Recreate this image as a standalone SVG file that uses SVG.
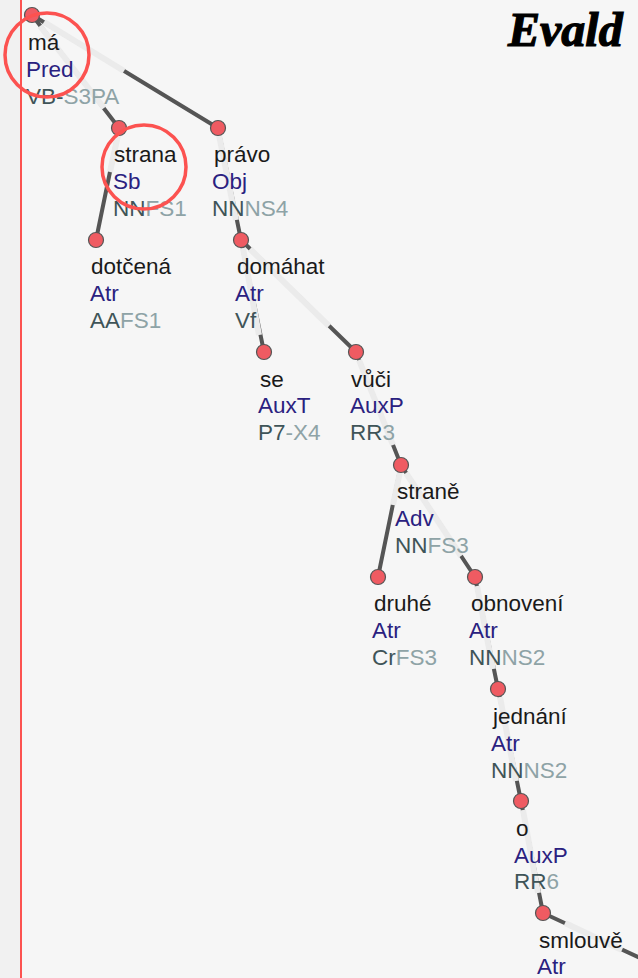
<svg xmlns="http://www.w3.org/2000/svg" width="638" height="978" viewBox="0 0 638 978">
<style>
text{font-family:"Liberation Sans",Arial,sans-serif;font-size:22.5px;transform:translateY(0.7px)}
.f{fill:#1a1a1a}.d{fill:#2a2180}.t{fill:#3f5458}.s{fill:#8ea3a6}
.e{stroke:#555;stroke-width:4;fill:none;stroke-linecap:round}
.h{stroke:#ebebeb;stroke-width:6;fill:none}
.n{fill:#ef5b62;stroke:#555;stroke-width:1.2}
.r{fill:none;stroke:#fc5250;stroke-width:3.5}
</style>
<rect width="638" height="978" fill="#f6f6f6"/>
<rect width="21" height="978" fill="#f1f1f1"/>
<rect x="20" width="2" height="978" fill="#fc5250"/>
<g id="connectors">
<path class="e" d="M32 15L119 128"/><path class="h" d="M40 26L104 108"/>
<path class="e" d="M32 15L218 128"/><path class="h" d="M44 22L124 71"/>
<path class="e" d="M119 128L96 240"/><path class="h" d="M118 135L110 172"/>
<path class="e" d="M218 128L241 240"/><path class="h" d="M219 135L236 220"/>
<path class="e" d="M241 240L264 352"/><path class="h" d="M243 248L259 335"/>
<path class="e" d="M241 240L356 352"/><path class="h" d="M250 249L329 326"/>
<path class="e" d="M356 352L401 465"/><path class="h" d="M359 360L393 445"/>
<path class="e" d="M401 465L378 577"/><path class="h" d="M400 472L393 505"/>
<path class="e" d="M401 465L475 577"/><path class="h" d="M406 473L461 556"/>
<path class="e" d="M475 577L498 689"/><path class="h" d="M477 586L493 669"/>
<path class="e" d="M498 689L521 801"/><path class="h" d="M500 697L516 781"/>
<path class="e" d="M521 801L543 913"/><path class="h" d="M523 810L538 893"/>
<path class="e" d="M543 913L640 958"/><path class="h" d="M565 923L622 950"/>
</g>
<g id="node-ma"><circle class="n" cx="32" cy="15" r="7.5"/><text class="f" x="28" y="49">má</text><text class="d" x="26" y="76">Pred</text><text x="26" y="103"><tspan class="t">VB-</tspan><tspan class="s">S3PA</tspan></text></g>
<g id="node-strana"><circle class="n" cx="119" cy="128" r="7.5"/><text class="f" x="114" y="161">strana</text><text class="d" x="113" y="188">Sb</text><text x="113" y="215"><tspan class="t">NN</tspan><tspan class="s">FS1</tspan></text></g>
<g id="node-pravo"><circle class="n" cx="218" cy="128" r="7.5"/><text class="f" x="214" y="161">právo</text><text class="d" x="212" y="188">Obj</text><text x="212" y="215"><tspan class="t">NN</tspan><tspan class="s">NS4</tspan></text></g>
<g id="node-dotcena"><circle class="n" cx="96" cy="240" r="7.5"/><text class="f" x="91" y="273">dotčená</text><text class="d" x="90" y="300">Atr</text><text x="90" y="327"><tspan class="t">AA</tspan><tspan class="s">FS1</tspan></text></g>
<g id="node-domahat"><circle class="n" cx="241" cy="240" r="7.5"/><text class="f" x="237" y="273">domáhat</text><text class="d" x="235" y="300">Atr</text><text class="t" x="235" y="327">Vf</text></g>
<g id="node-se"><circle class="n" cx="264" cy="352" r="7.5"/><text class="f" x="260" y="386">se</text><text class="d" x="258" y="412">AuxT</text><text x="258" y="439"><tspan class="t">P7</tspan><tspan class="s">-X4</tspan></text></g>
<g id="node-vuci"><circle class="n" cx="356" cy="352" r="7.5"/><text class="f" x="351" y="386">vůči</text><text class="d" x="350" y="412">AuxP</text><text x="350" y="439"><tspan class="t">RR</tspan><tspan class="s">3</tspan></text></g>
<g id="node-strane"><circle class="n" cx="401" cy="465" r="7.5"/><text class="f" x="397" y="498">straně</text><text class="d" x="395" y="525">Adv</text><text x="395" y="552"><tspan class="t">NN</tspan><tspan class="s">FS3</tspan></text></g>
<g id="node-druhe"><circle class="n" cx="378" cy="577" r="7.5"/><text class="f" x="374" y="610">druhé</text><text class="d" x="372" y="637">Atr</text><text x="372" y="664"><tspan class="t">Cr</tspan><tspan class="s">FS3</tspan></text></g>
<g id="node-obnoveni"><circle class="n" cx="475" cy="577" r="7.5"/><text class="f" x="471" y="610">obnovení</text><text class="d" x="469" y="637">Atr</text><text x="469" y="664"><tspan class="t">NN</tspan><tspan class="s">NS2</tspan></text></g>
<g id="node-jednani"><circle class="n" cx="498" cy="689" r="7.5"/><text class="f" x="493" y="723">jednání</text><text class="d" x="491" y="750">Atr</text><text x="491" y="777"><tspan class="t">NN</tspan><tspan class="s">NS2</tspan></text></g>
<g id="node-o"><circle class="n" cx="521" cy="801" r="7.5"/><text class="f" x="516" y="835">o</text><text class="d" x="514" y="862">AuxP</text><text x="514" y="888"><tspan class="t">RR</tspan><tspan class="s">6</tspan></text></g>
<g id="node-smlouve"><circle class="n" cx="543" cy="913" r="7.5"/><text class="f" x="539" y="947">smlouvě</text><text class="d" x="537" y="973">Atr</text></g>
<circle class="r" cx="47" cy="55" r="42"/>
<circle class="r" cx="144" cy="167" r="42"/>
<text x="508" y="45" style="font-family:'Liberation Serif',serif;font-size:48px;font-style:italic;font-weight:700;stroke:#000;stroke-width:1.2" fill="#000">Evald</text>
</svg>
